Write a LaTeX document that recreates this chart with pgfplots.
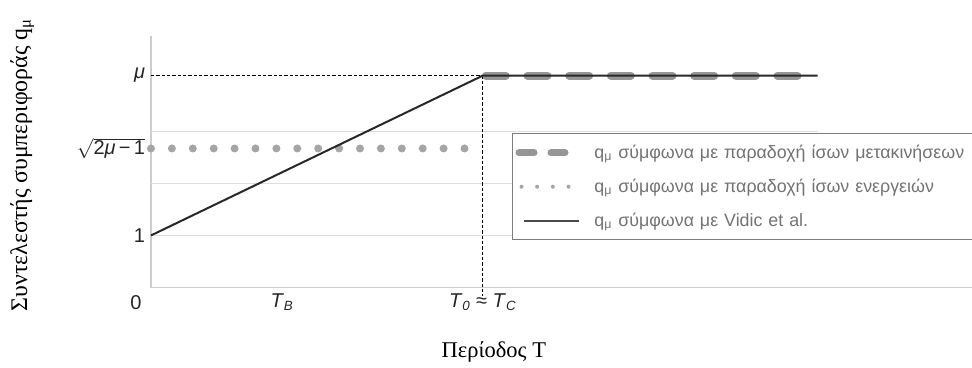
\documentclass[border=0pt]{standalone}
\usepackage{fontspec}
\setmainfont{Liberation Sans}
\newfontfamily\seriffont{Liberation Serif}
\usepackage{pgfplots}
\pgfplotsset{compat=1.18}
\definecolor{gridc}{RGB}{222,222,222}
\definecolor{axc}{RGB}{205,205,205}
\definecolor{dashc}{RGB}{150,150,150}
\definecolor{dotc}{RGB}{165,165,165}
\definecolor{solidc}{RGB}{40,40,40}
\definecolor{legtext}{RGB}{115,115,115}
\definecolor{legbord}{RGB}{125,125,125}
\begin{document}
\begin{tikzpicture}
\path[use as bounding box] (-90.6pt,-47.7pt) rectangle (492.6pt,172.5pt);
\begin{axis}[
  scale only axis, width=400.2pt, height=150.9pt,
  xmin=0, xmax=2.01, ymin=0, ymax=4.83,
  clip=false,
  axis x line=bottom, axis y line=left,
  axis line style={draw=axc, line width=0.8pt, -},
  major tick length=0pt,
  xtick={0.395,1},
  xticklabels={\textit{T}\textsubscript{\textit{B}}, \textit{T}\textsubscript{\textit{0}} ≈ \textit{T}\textsubscript{\textit{C}}},
  ytick={1,2.67,4.07},
  yticklabels={1, $\sqrt{\mbox{2\textit{μ}\,−\,1}}$, \textit{μ}},
  extra y ticks={1,2,3}, extra y tick labels={},
  extra y tick style={grid=major, major grid style={draw=gridc, line width=0.8pt}},
  tick label style={font=\fontsize{12}{14}\selectfont, text=black!85},
  xlabel={\seriffont Περίοδος T},
  xlabel style={at={(rel axis cs:0.514,-0.256)}, anchor=center, font=\fontsize{13.5}{15}\selectfont},
  ylabel={\seriffont Συντελεστής συμπεριφοράς q\textsubscript{μ}},
  every axis y label/.style={at={(rel axis cs:-0.193,0.487)}, rotate=90, anchor=center, font=\fontsize{14.3}{16}\selectfont},
  legend cell align=left,
  legend style={at={(rel axis cs:0.541,0.614)}, anchor=north west, draw=legbord, line width=0.8pt,
    inner xsep=1.8pt, inner ysep=1.2pt, font=\fontsize{10.7}{12}\selectfont, text=legtext,
    nodes={inner sep=0pt, minimum height=20.4pt, text width=225pt, align=left, text=legtext},
    /tikz/every odd column/.append style={column sep=8.8pt}},
]
\addlegendimage{legend image code/.code={\path[draw=none] (0pt,0pt) -- (38pt,0pt); \draw[dashc, line width=4.2pt, line cap=round, dash pattern=on 9pt off 10.2pt] (2.1pt,0pt) -- (29.7pt,0pt);}}
\addlegendentry{q\textsubscript{μ} σύμφωνα με παραδοχή ίσων μετακινήσεων}
\addlegendimage{legend image code/.code={\path[draw=none] (0pt,0pt) -- (38pt,0pt); \draw[dotc, line width=2.4pt, line cap=round, dash pattern=on 0pt off 9.4pt] (3.6pt,0pt) -- (32.2pt,0pt);}}
\addlegendentry{q\textsubscript{μ} σύμφωνα με παραδοχή ίσων ενεργειών}
\addlegendimage{legend image code/.code={\path[draw=none] (0pt,0pt) -- (38pt,0pt); \draw[solidc!85, line width=1.5pt] (4.8pt,0pt) -- (37.8pt,0pt);}}
\addlegendentry{q\textsubscript{μ} σύμφωνα με Vidic et al.}

\addplot[dashc, line width=4.8pt, line cap=round, dash pattern=on 12pt off 13pt, forget plot] coordinates {(1.009,4.07) (1.949,4.07)};
\addplot[black, line width=0.6pt, dash pattern=on 2pt off 1.2pt, forget plot] coordinates {(0,4.07) (1,4.07)};
\addplot[black, line width=0.6pt, dash pattern=on 2pt off 1.2pt, forget plot] coordinates {(1,4.07) (1,-0.16)};
\addplot[dotc, line width=4.8pt, line cap=round, dash pattern=on 0pt off 12.54pt, forget plot] coordinates {(0,2.67) (0.946,2.67)};
\addplot[solidc, line width=1.2pt, forget plot] coordinates {(0,1) (1,4.07) (2.009,4.07)};

\draw[axc, line width=0.8pt] (rel axis cs:1,0) -- (rel axis cs:1.232,0);
\node[font=\fontsize{12}{14}\selectfont, text=black!85] at (axis cs:0,0) [xshift=-9pt, yshift=-9.3pt] {0};
\end{axis}
\end{tikzpicture}
\end{document}
